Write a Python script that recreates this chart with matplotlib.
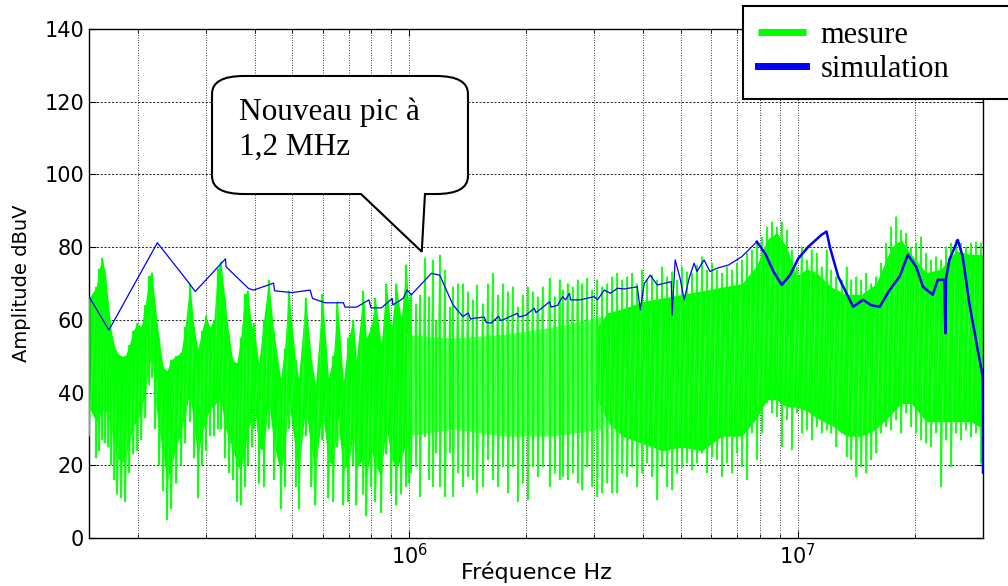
import numpy as np
import matplotlib.pyplot as plt
from matplotlib.path import Path
from matplotlib.patches import PathPatch

# --- measured spectrum ("mesure"), frequencies in MHz, levels in dBuV ---

# harmonic lobes below 1 MHz: top of the lines, bottom of the dense part, bottom of the lines
f_lobe = np.array([0.150, 0.1566, 0.1594, 0.1623, 0.1652, 0.1681, 0.1711, 0.1742, 0.1773, 0.1815,
                   0.1859, 0.1904, 0.1950, 0.1996, 0.2044, 0.2093, 0.2142, 0.2180, 0.2219, 0.2272,
                   0.2326, 0.2382, 0.2439, 0.2512, 0.2587, 0.2649, 0.2728, 0.2793, 0.2860, 0.2928,
                   0.2998, 0.3070, 0.3143, 0.3218, 0.3276, 0.3354, 0.3434, 0.3516, 0.3600, 0.3686,
                   0.3774, 0.3842, 0.3933, 0.3981, 0.4100, 0.4223, 0.4349, 0.4480, 0.4669, 0.4781,
                   0.4895, 0.5101, 0.5193, 0.5412, 0.5607, 0.5741, 0.5983, 0.6199, 0.6384, 0.6537,
                   0.6773, 0.6976, 0.7185, 0.7313, 0.7622, 0.7758, 0.7990, 0.8181, 0.8476, 0.8730,
                   0.8992, 0.9261, 0.9539, 0.9825, 1.000])
lobe_hi = np.array([66, 69, 74, 77, 73, 65, 57, 53, 51, 50,
                    50, 53, 57, 59, 58, 64, 72, 73, 64, 55,
                    47, 46, 49, 50, 51, 58, 70, 58, 52, 57,
                    61, 58, 60, 74, 76, 66, 56, 49, 48, 55,
                    67, 68, 58, 59, 48, 60, 71, 57, 44, 52,
                    68, 49, 44, 66, 49, 42, 67, 44, 50, 65,
                    43, 55, 60, 49, 68, 55, 58, 66, 53, 70,
                    57, 70, 60, 75, 62])
lobe_dense = np.array([36, 32, 33, 35, 35, 34, 30, 26, 22, 21,
                       21, 27, 31, 32, 35, 40, 48, 50, 38, 30,
                       23, 16, 19, 25, 29, 34, 40, 31, 22, 29,
                       32, 36, 36, 38, 38, 31, 27, 25, 20, 19,
                       24, 29, 33, 38, 25, 24, 38, 26, 18, 24,
                       38, 24, 18, 36, 24, 19, 35, 21, 20, 33,
                       19, 20, 29, 19, 22, 17, 24, 20, 17, 31,
                       22, 19, 22, 26, 25])
lobe_lo = np.array([28, 22, 24, 27, 26, 25, 20, 16, 12, 11,
                    10, 18, 23, 24, 27, 33, 42, 44, 30, 20,
                    13, 5, 8, 15, 20, 26, 32, 22, 11, 20,
                    24, 28, 28, 30, 30, 22, 18, 16, 10, 9,
                    14, 20, 25, 30, 15, 14, 30, 16, 8, 14,
                    30, 14, 8, 28, 14, 9, 27, 11, 10, 25,
                    9, 10, 20, 9, 12, 6, 14, 10, 7, 23,
                    12, 9, 12, 17, 15])

# 1 - 3 MHz: dense middle of the harmonic comb
f_mid = np.array([0.98, 1.297, 1.742, 2.340, 3.144])
mid_hi = np.array([56, 55, 56, 58, 61])
mid_lo = np.array([28, 30, 28, 28, 30])

# above 3 MHz: solid core of the spectrum
f_core = np.array([3.053, 3.238, 3.539, 3.981, 4.481, 5.043, 5.675, 6.386, 7.187, 7.853,
                   8.331, 8.838, 9.376, 9.941, 10.55, 11.19, 12.22, 13.36, 14.59, 15.94,
                   17.42, 18.48, 19.60, 21.41, 23.40, 25.57, 27.94, 30.0])
core_hi = np.array([58, 62, 63, 65, 66, 67, 68, 69, 70, 75,
                    82, 84, 80, 72, 74, 73, 69, 67, 67, 70,
                    80, 82, 78, 73, 74, 79, 78, 78])
core_lo = np.array([38, 32, 28, 26, 24, 25, 24, 28, 28, 33,
                    38, 38, 36, 36, 35, 33, 31, 28, 28, 30,
                    34, 37, 37, 32, 32, 32, 32, 30])

# individual harmonic lines above 1 MHz (top / bottom of each line)
f_spk = np.array([0.9825, 1.012, 1.042, 1.067, 1.099, 1.125, 1.152, 1.173, 1.201, 1.237,
                  1.274, 1.297, 1.336, 1.376, 1.417, 1.459, 1.494, 1.548, 1.595, 1.642,
                  1.691, 1.742, 1.794, 1.848, 1.903, 1.960, 2.019, 2.079, 2.141, 2.206,
                  2.299, 2.368, 2.439, 2.483, 2.557, 2.634, 2.713, 2.794, 2.878, 2.964,
                  3.053, 3.144, 3.238, 3.336, 3.436, 3.539, 3.645, 3.754, 3.866, 3.981,
                  4.100, 4.224, 4.351, 4.481, 4.615, 4.753, 4.895, 5.043, 5.194, 5.349,
                  5.509, 5.675, 5.845, 6.020, 6.200, 6.386, 6.577, 6.775, 6.978, 7.187,
                  7.402, 7.625, 7.853, 8.089, 8.331, 8.581, 8.838, 9.103, 9.376, 9.652,
                  9.941, 10.24, 10.55, 10.86, 11.19, 11.52, 11.87, 12.22, 12.59, 12.97,
                  13.36, 13.76, 14.17, 14.59, 15.03, 15.48, 15.94, 16.42, 16.91, 17.42,
                  17.94, 18.48, 19.03, 19.60, 20.19, 20.79, 21.41, 22.06, 22.72, 23.40,
                  24.10, 24.83, 25.57, 26.34, 27.13, 27.94, 28.78, 29.64])
spk_hi = np.array([75.1, 67.3, 64.5, 66.8, 77.0, 66.4, 76.5, 60.0, 77.9, 73.7,
                   63.6, 69.1, 70.0, 70.0, 67.8, 65.5, 69.6, 64.5, 70.0, 72.8,
                   66.8, 70.0, 67.8, 69.1, 63.6, 66.8, 69.1, 67.8, 66.4, 69.1,
                   71.4, 66.4, 71.0, 68.2, 70.0, 69.1, 71.0, 70.0, 71.4, 68.2,
                   71.0, 69.1, 70.0, 71.9, 72.8, 71.0, 71.9, 72.8, 70.0, 73.7,
                   71.0, 72.3, 71.0, 74.6, 71.9, 73.3, 71.0, 74.6, 73.3, 72.8,
                   75.1, 77.4, 73.7, 75.6, 73.7, 72.8, 74.6, 73.7, 75.6, 76.5,
                   78.3, 79.2, 81.1, 82.9, 85.6, 87.0, 85.6, 87.0, 84.7, 79.2,
                   74.6, 80.1, 76.5, 79.2, 78.3, 74.6, 79.2, 73.7, 71.9, 71.0,
                   74.6, 71.0, 71.9, 71.0, 72.8, 70.0, 71.9, 75.6, 81.1, 85.6,
                   88.4, 84.7, 83.8, 80.1, 81.1, 82.9, 78.3, 76.5, 77.4, 76.5,
                   80.1, 81.1, 82.0, 81.1, 80.1, 81.1, 81.5, 81.1])
spk_lo = np.array([14.1, 17.8, 19.6, 11.4, 27.9, 16.0, 14.1, 23.3, 14.1, 11.4,
                   23.3, 11.4, 17.8, 14.1, 16.9, 16.0, 12.3, 14.1, 21.5, 16.0,
                   14.1, 19.6, 12.3, 19.6, 10.0, 15.0, 10.5, 19.6, 16.9, 19.6,
                   14.1, 17.8, 16.0, 16.9, 16.0, 17.8, 15.0, 13.2, 19.6, 14.1,
                   11.4, 12.3, 15.0, 12.3, 12.3, 17.8, 16.9, 19.6, 14.1, 17.8,
                   20.5, 16.9, 10.5, 19.6, 14.1, 13.2, 17.8, 19.6, 20.5, 18.7,
                   20.5, 23.3, 17.8, 22.4, 21.5, 16.9, 20.5, 17.8, 23.3, 19.6,
                   16.0, 28.8, 21.5, 28.8, 37.0, 34.3, 33.4, 25.1, 32.5, 24.2,
                   34.3, 28.8, 29.7, 26.9, 30.6, 28.8, 29.7, 28.8, 25.1, 28.8,
                   22.4, 21.5, 16.9, 19.6, 17.8, 21.5, 23.3, 28.8, 30.6, 29.7,
                   32.5, 28.8, 34.3, 30.6, 28.8, 26.9, 26.0, 25.1, 28.8, 14.1,
                   26.9, 19.6, 28.8, 26.9, 29.7, 27.9, 28.8, 20.5])

# --- simulated spectrum ("simulation") ---
f_sim = np.array([0.150, 0.1688, 0.2249, 0.2697, 0.2815, 0.3368, 0.3380, 0.3864, 0.3981, 0.4480,
                  0.4505, 0.4992, 0.5564, 0.5640, 0.6080, 0.6774, 0.6841, 0.7327, 0.7883, 0.7977,
                  0.8492, 0.9046, 0.9083, 0.9652, 0.9883, 1.0137, 1.141, 1.199, 1.297, 1.376,
                  1.42, 1.44, 1.459, 1.56, 1.58, 1.626, 1.70, 1.72, 1.742, 1.90,
                  1.92, 2.000, 2.10, 2.12, 2.163, 2.30, 2.32, 2.411, 2.483, 2.527,
                  2.587, 2.602, 2.758, 2.994, 3.053, 3.180, 3.297, 3.436, 3.581, 3.866,
                  3.935, 4.029, 4.174, 4.351, 4.728, 4.753, 4.839, 4.983, 5.104, 5.256,
                  5.414, 5.509, 5.743, 5.948, 6.200, 6.644, 7.187, 7.853, 8.246, 8.666,
                  9.103, 9.557, 10.04, 10.65, 11.52, 11.87, 12.10, 12.72, 13.49, 13.90,
                  14.74, 15.48, 16.26, 17.25, 18.30, 19.22, 20.19, 21.01, 22.28, 22.95,
                  23.87, 24.00, 24.10, 24.58, 25.83, 26.60, 27.66, 28.77, 29.94, 30.0,
                  30.0])
sim = np.array([66.4, 57.2, 81.2, 70.5, 67.8, 76.8, 74.6, 68.6, 68.2, 70.1,
                68.0, 67.5, 68.2, 65.9, 64.7, 64.7, 63.5, 63.5, 65.5, 63.3,
                63.3, 65.9, 64.1, 65.9, 68.2, 66.9, 72.8, 72.3, 64.1, 60.9,
                61.9, 60.2, 60.4, 60.8, 59.3, 59.1, 61.0, 59.8, 60.0, 61.8,
                60.8, 61.3, 63.2, 62.0, 62.7, 65.0, 63.5, 64.0, 66.4, 65.5,
                67.3, 65.5, 65.5, 66.4, 65.5, 68.2, 67.3, 68.7, 68.5, 69.1,
                62.7, 70.0, 72.3, 69.6, 70.5, 61.3, 76.5, 71.4, 65.5, 71.4,
                75.6, 73.3, 76.5, 73.3, 74.2, 75.1, 77.4, 81.5, 78.3, 73.3,
                69.6, 72.3, 76.9, 80.1, 83.4, 84.3, 80.1, 71.9, 66.4, 63.6,
                65.5, 64.0, 63.6, 68.2, 71.9, 77.9, 74.6, 69.1, 66.9, 71.0,
                71.0, 56.3, 71.5, 76.5, 82.0, 77.4, 64.6, 54.5, 44.4, 38.0,
                18.0])

y_ticks = [0, 20, 40, 60, 80, 100, 120, 140]

plt.rcParams['font.family'] = 'DejaVu Sans'

fig = plt.figure(figsize=(10.08, 5.86), dpi=100)
ax = fig.add_axes([0.0883, 0.0819, 0.8869, 0.8686])
ax.set_xscale('log')

# measurement: dense parts filled, harmonic lines drawn as a zig-zag trace
ax.fill_between(f_lobe * 1e6, lobe_dense, lobe_hi, color='#00ff00', lw=0, zorder=2)
ax.fill_between(f_mid * 1e6, mid_lo, mid_hi, color='#5cff5c', lw=0, zorder=2)
ax.fill_between(f_core * 1e6, core_lo, core_hi, color='#00ff00', lw=0, zorder=2)

lobe_x = np.repeat(f_lobe * 1e6, 2)
lobe_y = np.column_stack([lobe_hi, lobe_lo]).ravel()
ax.plot(lobe_x, lobe_y, color='#33ff33', lw=0.9, alpha=0.85, zorder=3)
ax.vlines(f_lobe * 1e6, lobe_lo, lobe_hi, colors='#00ff00', lw=1.6, alpha=0.85, zorder=3)

spk_x = np.repeat(f_spk * 1e6, 2)
spk_y = np.column_stack([spk_hi, spk_lo]).ravel()
ax.plot(spk_x, spk_y, color='#3cff3c', lw=1.0, alpha=0.8, zorder=3)
mes = ax.vlines(f_spk * 1e6, spk_lo, spk_hi, colors='#00ff00', lw=1.5, alpha=0.8, zorder=3)

# simulation: thin line, thicker where the curve is noisy
line_sim, = ax.plot(f_sim * 1e6, sim, color='#0000ff', lw=0.9, zorder=4)
hf = f_sim >= 7.5
ax.plot(f_sim[hf] * 1e6, sim[hf], color='#0000ff', lw=1.8, zorder=4)

# axes
ax.set_xlim(1.5e5, 3e7)
ax.set_ylim(0, 140)
ax.set_yticks(y_ticks)
ax.tick_params(which='both', direction='in', top=True, right=True, labelsize=15)
ax.tick_params(which='major', length=5, width=0.8)
ax.tick_params(which='minor', length=3, width=0.6)
ax.tick_params(axis='x', which='minor', labelbottom=False)
for s in ax.spines.values():
    s.set_linewidth(1.0)

ax.set_axisbelow(True)
ax.grid(True, axis='y', which='major', color='black', lw=0.6, linestyle=(0, (2.5, 2)))
ax.grid(True, axis='x', which='both', color='black', lw=0.6, linestyle=(0, (1, 2)))

ax.set_xlabel('Fréquence Hz', fontsize=16, labelpad=-5)
ax.set_ylabel('Amplitude dBuV', fontsize=14, labelpad=10)

# legend box (sticks out of the figure on the right, as in the original)
leg = ax.legend([mes, line_sim], ['mesure', 'simulation'], loc='upper left',
                bbox_to_anchor=(0.737, 0.0, 0.30, 0.99), bbox_transform=fig.transFigure,
                mode='expand', borderaxespad=0, frameon=True, fancybox=False,
                edgecolor='black', framealpha=1, borderpad=0.5, labelspacing=0.15,
                handlelength=1.55, handletextpad=0.5,
                prop={'family': 'Liberation Serif', 'size': 22})
leg.get_frame().set_linewidth(1.5)
for h, c in zip(leg.legend_handles, ['#00ff00', '#0000ff']):
    h.set_linewidth(5)
    h.set_color(c)
    h.set_alpha(1)

# speech bubble
x0, x1, yt, yb = 0.1376, 0.4239, 0.9077, 0.6758
rx, ry = 0.036, 0.035
verts = [(x0 + rx, yt), (x1 - rx, yt), (x1, yt), (x1, yt - ry), (x1, yb + ry),
         (x1, yb), (x1 - rx, yb), (0.3758, yb), (0.3722, 0.5625), (0.3043, yb),
         (x0 + rx, yb), (x0, yb), (x0, yb + ry), (x0, yt - ry), (x0, yt), (x0 + rx, yt),
         (x0 + rx, yt)]
codes = [Path.MOVETO, Path.LINETO, Path.CURVE3, Path.CURVE3, Path.LINETO,
         Path.CURVE3, Path.CURVE3, Path.LINETO, Path.LINETO, Path.LINETO,
         Path.LINETO, Path.CURVE3, Path.CURVE3, Path.LINETO, Path.CURVE3, Path.CURVE3,
         Path.CLOSEPOLY]
bubble = PathPatch(Path(verts, codes), transform=ax.transAxes, fc='white', ec='black',
                   lw=1.5, zorder=6, clip_on=False)
ax.add_patch(bubble)
ax.text(0.168, 0.8212, 'Nouveau pic à', transform=ax.transAxes, fontsize=22.5,
        family='Liberation Serif', va='baseline', ha='left', zorder=7)
ax.text(0.168, 0.7525, '1,2 MHz', transform=ax.transAxes, fontsize=22.5,
        family='Liberation Serif', va='baseline', ha='left', zorder=7)

plt.savefig('out.png', dpi=100)
plt.close()
